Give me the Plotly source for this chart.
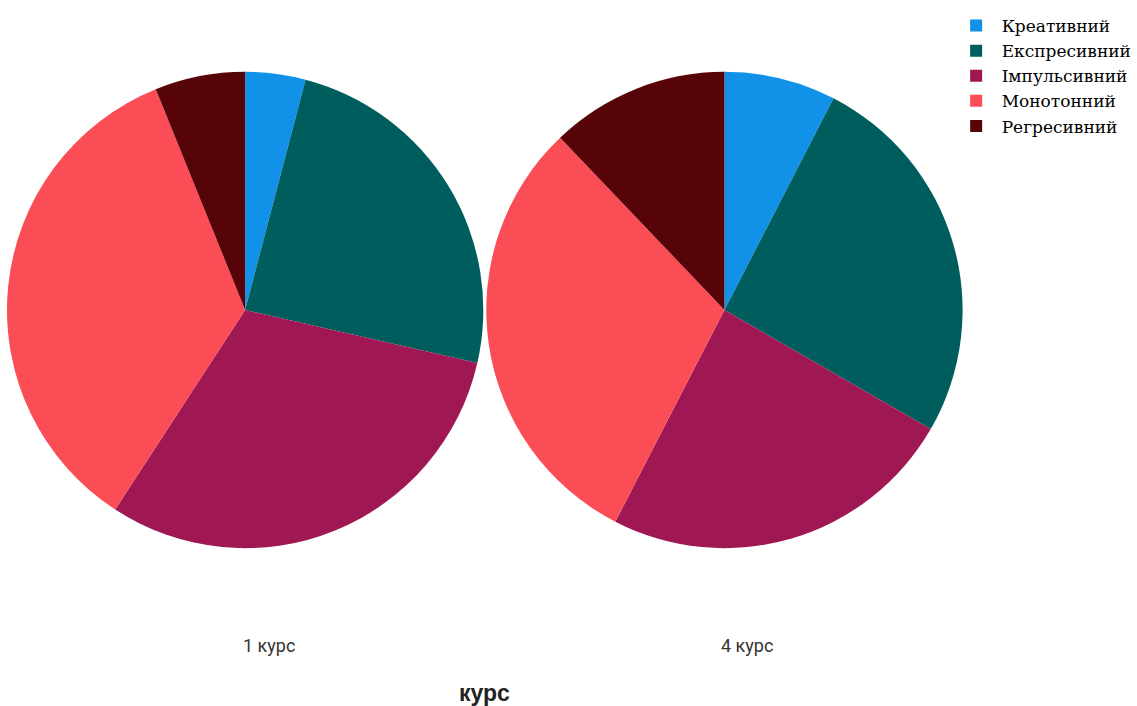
import plotly.graph_objects as go

categories = ["Креативний", "Експресивний", "Імпульсивний", "Монотонний", "Регресивний"]
course1_values = [2, 12, 15, 17, 3]
course4_values = [5, 17, 16, 20, 8]
group_labels = ["1 курс", "4 курс"]
axis_title = "курс"
colors = ["#1192E8", "#005D5D", "#9F1853", "#FA4D56", "#570408"]

W, H = 1137, 706

def dom(cx, cy, r):
    return dict(x=[(cx - r) / W, (cx + r) / W], y=[1 - (cy + r) / H, 1 - (cy - r) / H])

fig = go.Figure()
for i, (vals, cx) in enumerate([(course1_values, 246), (course4_values, 727)]):
    fig.add_trace(go.Pie(
        labels=categories, values=vals, sort=False, direction="clockwise", rotation=0,
        marker=dict(colors=colors, line=dict(width=0)),
        textinfo="none", hoverinfo="label+percent",
        domain=dom(cx, 310, 239), showlegend=(i == 0), name=group_labels[i],
    ))

for lbl, cx in zip(group_labels, [270, 750]):
    fig.add_annotation(text=lbl, x=cx / W, y=1 - 645 / H, xref="paper", yref="paper",
                       xanchor="center", yanchor="middle", showarrow=False,
                       font=dict(family="Liberation Sans Narrow, Roboto, sans-serif", size=18, color="#333333"))
fig.add_annotation(text="<b>" + axis_title + "</b>", x=486 / W, y=1 - 693 / H, xref="paper", yref="paper",
                   xanchor="center", yanchor="middle", showarrow=False,
                   font=dict(family="Liberation Sans, Arial, sans-serif", size=23, color="#222222"))

fig.update_layout(
    width=W, height=H, margin=dict(l=0, r=0, t=0, b=0),
    paper_bgcolor="white", plot_bgcolor="white",
    legend=dict(x=954 / W, y=1 - 8 / H, xanchor="left", yanchor="top",
                font=dict(family="DejaVu Serif, Liberation Serif, serif", size=17, color="#000000"),
                tracegroupgap=0, itemwidth=41, bgcolor="rgba(0,0,0,0)"),
)

fig.write_html("out.html")
